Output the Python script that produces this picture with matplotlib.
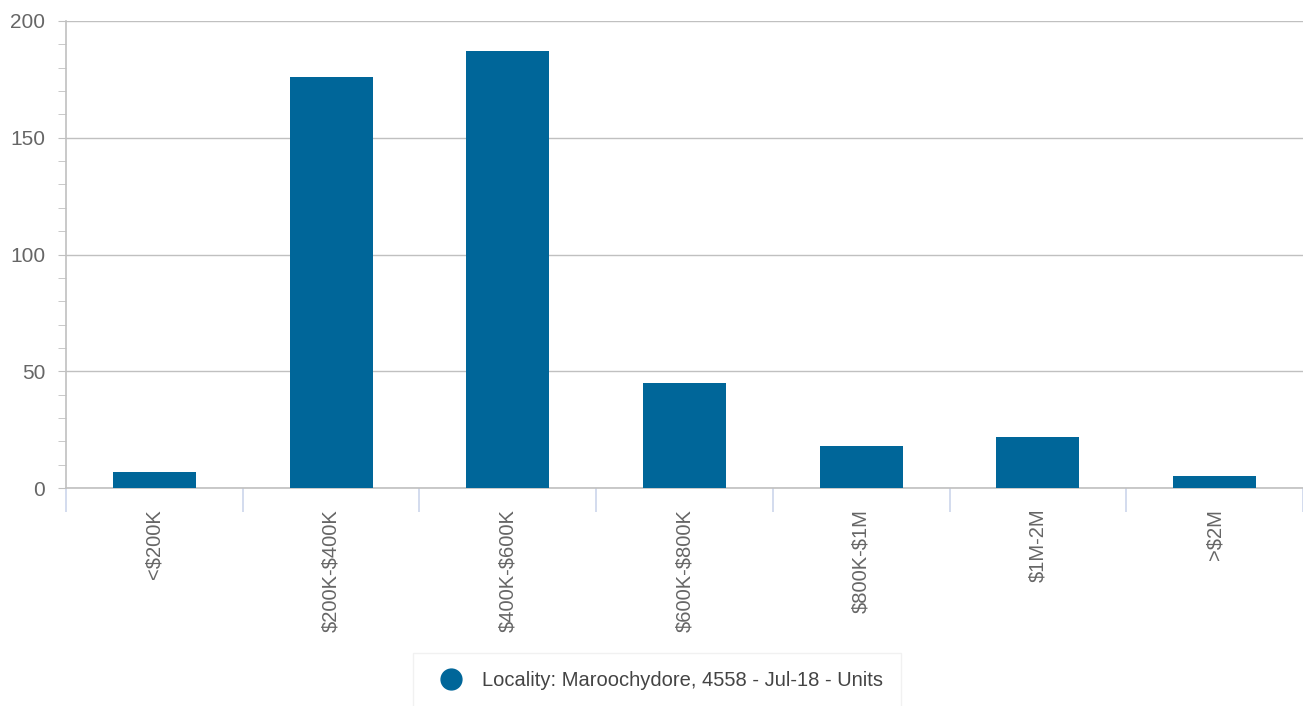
import matplotlib
matplotlib.use("Agg")
import matplotlib.pyplot as plt
import numpy as np
from matplotlib.lines import Line2D

categories = ["<$200K", "$200K-$400K", "$400K-$600K", "$600K-$800K",
              "$800K-$1M", "$1M-2M", ">$2M"]
values = [7, 176, 187, 45, 18, 22, 5]
series_name = "Locality: Maroochydore, 4558 - Jul-18 - Units"
y_ticks = [0, 50, 100, 150, 200]

bar_color = "#006699"
grid_color = "#c0c0c0"
text_color = "#666666"

plt.rcParams["font.family"] = ["Liberation Sans", "DejaVu Sans"]
plt.rcParams["text.parse_math"] = False

fig = plt.figure(figsize=(13.03, 7.06), dpi=100)
ax = fig.add_axes([66 / 1303, 1 - 488 / 706, 1 - 66 / 1303, (488 - 21) / 706])

x = np.arange(len(categories))
ax.bar(x, values, width=0.47, color=bar_color, zorder=3)

ax.set_xlim(-0.5, len(categories) - 0.5)
ax.set_ylim(0, 200)

ax.set_yticks(y_ticks)
ax.set_yticks(np.arange(0, 201, 10), minor=True)
ax.yaxis.grid(True, which="major", color=grid_color, linewidth=1, zorder=0)
ax.tick_params(axis="y", which="major", length=6, color=grid_color,
               labelsize=15, labelcolor=text_color, pad=9)
ax.tick_params(axis="y", which="minor", length=6, color=grid_color)

ax.set_xticks(x)
ax.set_xticklabels(categories, rotation=90, va="top", ha="center")
ax.set_xticks(np.arange(-0.5, len(categories)), minor=True)
ax.tick_params(axis="x", which="major", length=0, labelsize=14.5,
               labelcolor=text_color, pad=15)
ax.tick_params(axis="x", which="minor", length=17, color="#ccd6eb",
               width=1.2)

for side in ["top", "right"]:
    ax.spines[side].set_visible(False)
ax.spines["left"].set_color(grid_color)
ax.spines["bottom"].set_color(grid_color)
ax.spines["left"].set_linewidth(1.2)
ax.spines["bottom"].set_linewidth(1.2)

handle = Line2D([], [], marker="o", linestyle="none", markersize=15,
                color=bar_color)
leg = fig.legend([handle], [series_name], loc="lower center",
                 bbox_to_anchor=(657 / 1303, -0.017), frameon=True,
                 fontsize=14.5, handletextpad=0.5, borderpad=0.9,
                 fancybox=False)
leg.get_frame().set_edgecolor("#eeeeee")
for t in leg.get_texts():
    t.set_color("#444444")

fig.savefig("out.png", dpi=100)
